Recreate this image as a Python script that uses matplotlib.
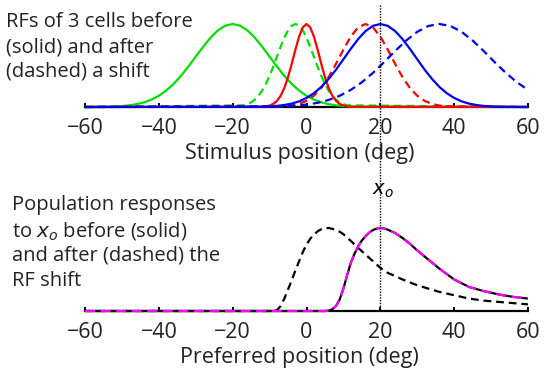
import matplotlib
matplotlib.use("Agg")
from matplotlib import pyplot as plt
from matplotlib.lines import Line2D
from matplotlib.transforms import blended_transform_factory

plt.rcParams['font.family'] = ['Open Sans', 'DejaVu Sans']

# ---- top panel: receptive fields ----
green_x = [-60, -54, -52, -50, -48, -46, -44, -42, -40, -38, -36, -34, -32, -30, -28, -26, -24, -22,
           -20, -18, -16, -14, -12, -10, -8, -6, -4, -2, 0, 2, 4, 6, 8, 10, 12, 14, 60]
green_y = [0, .003, .006, .011, .020, .034, .056, .089, .135, .198, .278, .375, .487, .607, .726, .835,
           .923, .980, 1, .980, .923, .835, .726, .607, .487, .375, .278, .198, .135, .089, .056, .034,
           .020, .011, .006, .003, 0]

green2_x = [-60, -17, -16, -15, -14, -13, -12, -11, -10, -9, -8, -7, -6, -5, -4, -3, -2, -1, 0,
            1, 2, 3, 4, 5, 6, 7, 8, 9, 10, 11, 60]
green2_y = [0, .020, .034, .056, .089, .135, .198, .278, .375, .487, .607, .726, .835, .923, .980,
            1, .980, .923, .835, .726, .607, .487, .375, .278, .198, .135, .089, .056, .034, .020, 0]

red_x = [-60, -12, -11, -10, -9, -8, -7, -6, -5, -4, -3, -2, -1, 0, 1, 2, 3, 4, 5, 6, 7, 8, 9, 10, 11, 12, 60]
red_y = [0, .003, .007, .017, .037, .074, .135, .230, .360, .520, .692, .849, .960, 1, .960, .849, .692,
         .520, .360, .230, .135, .074, .037, .017, .007, .003, 0]

red2_x = [-60, -6, -4, -2, 0, 2, 4, 6, 8, 10, 12, 14, 16, 18, 20, 22, 24, 26, 28, 30, 32, 34, 36, 38, 60]
red2_y = [0, .007, .017, .037, .074, .135, .230, .360, .520, .692, .849, .960, 1, .960, .849, .692,
          .520, .360, .230, .135, .074, .037, .017, .007, 0]

blue_x = [-60, -12, -10, -8, -6, -4, -2, 0, 2, 4, 6, 8, 10, 12, 14, 16, 18, 20, 22, 24, 26, 28, 30,
          32, 34, 36, 38, 40, 42, 44, 46, 48, 50, 52, 60]
blue_y = [0, .003, .007, .013, .024, .041, .068, .109, .166, .242, .338, .450, .575, .701, .819, .915,
          .978, 1, .978, .915, .819, .701, .575, .450, .338, .242, .166, .109, .068, .041, .024, .013,
          .007, .003, 0]

blue2_x = [-60, -6, -3, 0, 3, 6, 9, 12, 15, 18, 21, 24, 27, 30, 33, 36, 39, 42, 45, 48, 51, 54, 57, 60]
blue2_y = [0, .008, .015, .029, .050, .085, .135, .206, .298, .411, .539, .674, .801, .906, .976, 1,
           .976, .906, .801, .674, .539, .411, .298, .206]

# ---- bottom panel: population responses ----
pop_x = [-60, 5, 6, 7, 8, 9, 10, 11, 12, 13, 14, 15, 16, 17, 18, 19, 20, 21, 22, 24, 26, 28, 30,
         33, 36, 40, 44, 48, 52, 56, 60]
pop_before = [0, 0, .003, .02, .06, .14, .27, .43, .58, .69, .78, .85, .90, .945, .975, .993, 1, .995,
              .98, .94, .88, .81, .73, .62, .51, .38, .29, .24, .20, .17, .15]
pop_model = [0, 0, .003, .02, .06, .14, .27, .43, .58, .69, .78, .85, .90, .945, .975, .993, 1, .995,
             .98, .94, .88, .81, .73, .62, .51, .38, .29, .24, .20, .17, .15]

pop_after_x = [-60, -9, -8, -7, -6, -5, -4, -3, -2, -1, 0, 1, 2, 3, 4, 5, 6, 7, 8, 9, 10, 12, 14, 16,
               18, 20, 22, 24, 26, 28, 30, 33, 36, 40, 44, 48, 52, 56, 60]
pop_after = [0, 0, .01, .06, .15, .26, .37, .49, .60, .71, .80, .87, .92, .96, .985, .998, 1, .99, .975,
             .955, .925, .845, .76, .68, .60, .52, .46, .42, .38, .345, .31, .27, .23, .19, .15, .125,
             .11, .095, .08]

ticks = [-60, -40, -20, 0, 20, 40, 60]
x_o = 20

top_note = ['RFs of 3 cells before', '(solid) and after', '(dashed) a shift']
bottom_note = ['Population responses', r'to $x_o$ before (solid)', 'and after (dashed) the', 'RF shift']

W, H = 546, 376
fig = plt.figure(figsize=(W / 100, H / 100), dpi=100)
txt = '#222222'


def make_axes(base_px, label):
    lo, hi = -0.02, 1.1
    unit = 83
    bottom = (H - base_px - unit * (0 - lo)) / H
    ax = fig.add_axes([85 / W, bottom, 443 / W, unit * (hi - lo) / H])
    ax.set_xlim(-60, 60)
    ax.set_ylim(lo, hi)
    for s in ['left', 'right', 'top']:
        ax.spines[s].set_visible(False)
    ax.spines['bottom'].set_position(('data', 0))
    ax.spines['bottom'].set_linewidth(1.6)
    ax.set_yticks([])
    ax.set_xticks(ticks)
    ax.tick_params(axis='x', direction='in', length=3, width=1.4, labelsize=15.5, pad=8,
                   colors='black', labelcolor=txt)
    ax.patch.set_visible(False)
    ax.set_xlabel(label, fontsize=15.5, color=txt)
    # label centre ~45-48 px below the baseline
    ax.xaxis.set_label_coords(0.485, (0.02 * unit - 36) / (unit * (hi - lo)))
    return ax


ax1 = make_axes(107, 'Stimulus position (deg)')
lw = 1.6
dash = (0, (3.5, 2.2))
ax1.plot(green_x, green_y, color='#00dd00', lw=lw, zorder=3)
ax1.plot(green2_x, green2_y, color='#00dd00', lw=lw, ls=dash, zorder=3)
ax1.plot(red_x, red_y, color='#ff0000', lw=lw, zorder=3)
ax1.plot(red2_x, red2_y, color='#ff0000', lw=lw, ls=dash, zorder=3)
ax1.plot(blue_x, blue_y, color='#0000ee', lw=lw, zorder=3)
ax1.plot(blue2_x, blue2_y, color='#0000ee', lw=lw, ls=dash, zorder=3)

ax2 = make_axes(311, 'Preferred position (deg)')
ax2.plot(pop_x, pop_before, color='black', lw=lw, zorder=3)
ax2.plot(pop_after_x, pop_after, color='black', lw=lw, ls=dash, zorder=3)
ax2.plot(pop_x, pop_model, color='#ff00ff', lw=lw, ls=(0, (4.5, 2.5)), zorder=4)

# dotted marker line across both panels
tr = blended_transform_factory(ax1.transData, fig.transFigure)
fig.add_artist(Line2D([x_o, x_o], [(H - 5) / H, (H - 311) / H], transform=tr,
                      color='black', lw=1.0, ls=(0, (1, 1)), zorder=5))
fig.text(383 / W, (H - 191) / H, r'$x_o$', ha='center', va='center', fontsize=14, zorder=6)

for i, line in enumerate(top_note):
    fig.text(6 / W, (H - 22 - 25 * i) / H, line, ha='left', va='center', fontsize=14.5, color=txt)
for i, line in enumerate(bottom_note):
    fig.text(12 / W, (H - 205 - 25.5 * i) / H, line, ha='left', va='center', fontsize=14.5, color=txt)

fig.savefig('out.png', dpi=100)
